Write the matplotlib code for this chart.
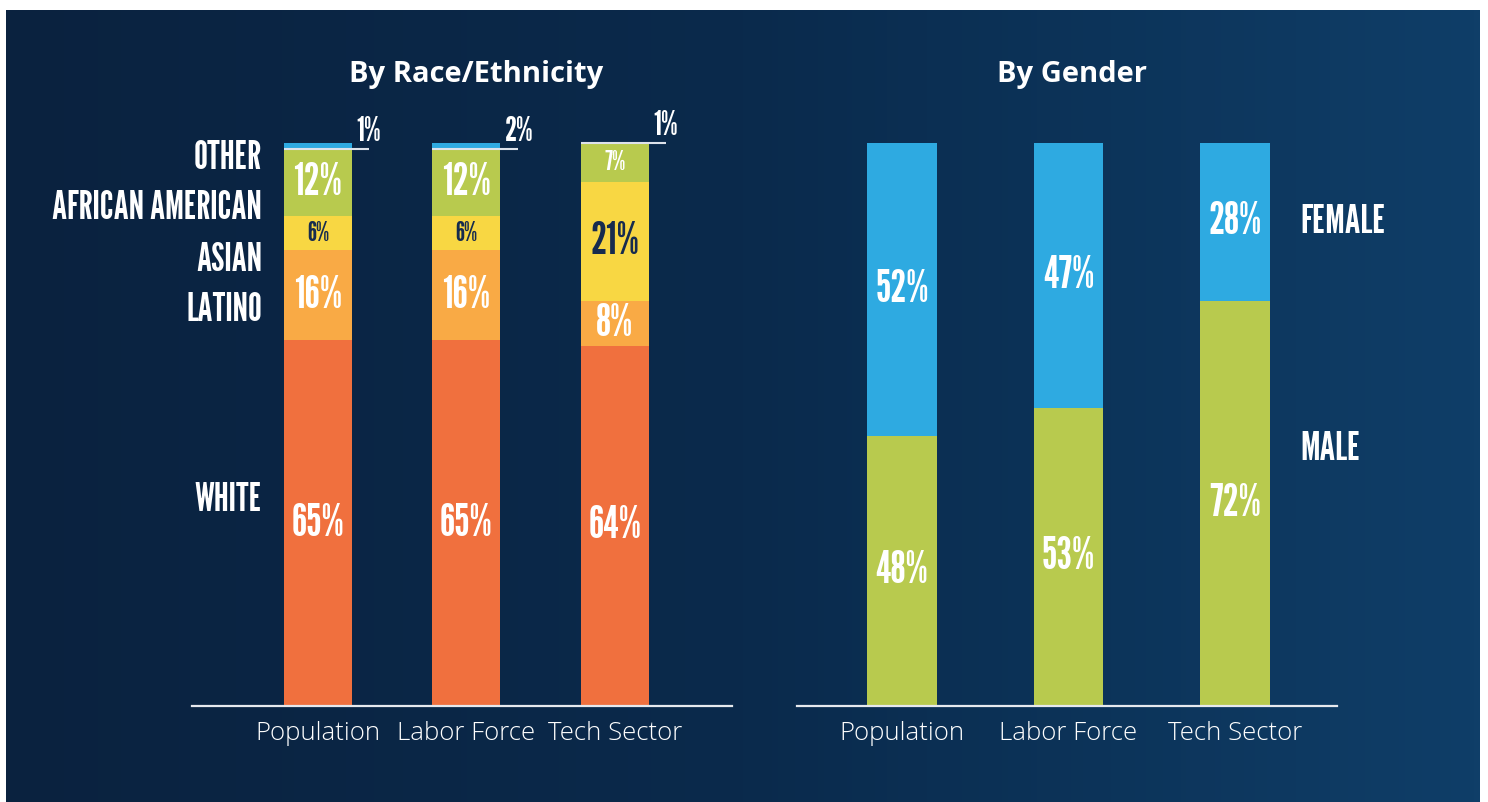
import numpy as np
import matplotlib.pyplot as plt
from matplotlib.colors import LinearSegmentedColormap

# data
groups = ["Population", "Labor Force", "Tech Sector"]
race_names = ["WHITE", "LATINO", "ASIAN", "AFRICAN AMERICAN", "OTHER"]
white = [65, 65, 64]
latino = [16, 16, 8]
asian = [6, 6, 21]
african_american = [12, 12, 7]
other = [1, 2, 1]
male = [48, 53, 72]
female = [52, 47, 28]

race_colors = ["#F0703E", "#F9AA45", "#F8D743", "#B8CA4E", "#2EAAE1"]
male_color = "#B8CA4E"
female_color = "#2EAAE1"
navy = "#162b4e"
cond = ["League Gothic", "Oswald", "DejaVu Sans"]
sans = ["Open Sans", "DejaVu Sans"]

W, H = 1488, 802
fig = plt.figure(figsize=(W / 100, H / 100), dpi=100, facecolor="white")

# gradient background
bg = fig.add_axes([6 / W, 0, 1474 / W, 792 / H])
cmap = LinearSegmentedColormap.from_list("bg", ["#0a223f", "#0a2a4c", "#0f3e68"])
grad = np.linspace(0, 1, 256).reshape(1, -1)
bg.imshow(grad, aspect="auto", cmap=cmap, extent=[0, 1, 0, 1])
bg.axis("off")


def px_axes(x0, x1, ytop, ybot):
    return fig.add_axes([x0 / W, (H - ybot) / H, (x1 - x0) / W, (ybot - ytop) / H])


def style(ax):
    ax.set_facecolor("none")
    for s in ["top", "right", "left"]:
        ax.spines[s].set_visible(False)
    ax.spines["bottom"].set_color("#e6e9ee")
    ax.spines["bottom"].set_linewidth(1.6)
    ax.set_yticks([])
    ax.set_ylim(0, 100)
    ax.tick_params(axis="x", length=0, pad=11, colors="white")
    for t in ax.get_xticklabels():
        t.set_fontfamily(sans)
        t.set_fontweight(300)
        t.set_fontsize(18.5)
        t.set_color("white")


# ---- left: race ----
ax1 = px_axes(192, 732, 143, 706)
x1 = np.arange(3)
bw1 = 0.458
race_vals = [white, latino, asian, african_american, other]
bottom = np.zeros(3)
for vals, col in zip(race_vals, race_colors):
    ax1.bar(x1, vals, bw1, bottom=bottom, color=col, linewidth=0)
    bottom += np.array(vals)
ax1.set_xlim(-0.848, 2.788)
ax1.set_xticks(x1, groups)
style(ax1)

bottom = np.zeros(3)
for k, (vals, col) in enumerate(zip(race_vals, race_colors)):
    for i, v in enumerate(vals):
        mid = bottom[i] + v / 2
        if k == 4:
            top = bottom[i]
            ax1.plot([i - bw1 / 2, i + bw1 / 2 + 0.115], [top, top], color="#dde2ea", lw=1.5,
                     solid_capstyle="butt", clip_on=False)
            ax1.text(i + bw1 / 2 + 0.03, top + 0.3, f"{v}%", color="white", fontsize=24,
                     family=cond, ha="left", va="bottom", clip_on=False)
        else:
            small = v < 8
            tc = navy if k == 2 else "white"
            ax1.text(i, mid, f"{v}%", color=tc, fontsize=19 if small else 32,
                     family=cond, ha="center", va="center")
    bottom += np.array(vals)

label_y = [36.6, 70.3, 79.2, 88.5, 97.3]
for name, yy in zip(race_names, label_y):
    ax1.text(-0.377, yy, name, color="white", fontsize=28, family=cond,
             ha="right", va="center", clip_on=False)

ax1.text(0.526, 1.122, "By Race/Ethnicity", transform=ax1.transAxes, color="white",
         fontsize=21, fontweight="bold", family=sans, ha="center", va="center")

# ---- right: gender ----
ax2 = px_axes(797, 1337, 143, 706)
x2 = np.arange(3)
bw2 = 0.42
ax2.bar(x2, male, bw2, color=male_color, linewidth=0)
ax2.bar(x2, female, bw2, bottom=male, color=female_color, linewidth=0)
ax2.set_xlim(-0.631, 2.613)
ax2.set_xticks(x2, groups)
style(ax2)

for i in range(3):
    ax2.text(i, male[i] / 2, f"{male[i]}%", color="white", fontsize=32,
             family=cond, ha="center", va="center")
    ax2.text(i, male[i] + female[i] / 2, f"{female[i]}%", color="white", fontsize=32,
             family=cond, ha="center", va="center")

ax2.text(2.39, male[2] + female[2] / 2, "FEMALE", color="white", fontsize=29,
         family=cond, ha="left", va="center", clip_on=False)
ax2.text(2.39, 45.6, "MALE", color="white", fontsize=29,
         family=cond, ha="left", va="center", clip_on=False)

ax2.text(0.51, 1.122, "By Gender", transform=ax2.transAxes, color="white",
         fontsize=21, fontweight="bold", family=sans, ha="center", va="center")

fig.savefig("out.png", dpi=100, facecolor="white")
